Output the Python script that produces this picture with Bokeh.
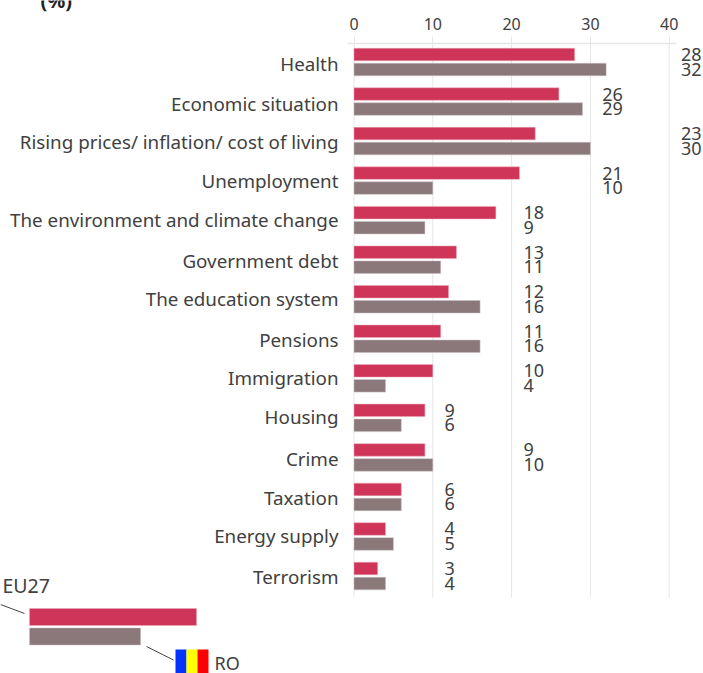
from bokeh.plotting import figure
from bokeh.models import Range1d, LinearAxis, FixedTicker
from bokeh.core.properties import value
from bokeh.embed import file_html
from bokeh.resources import INLINE

categories = ["Health", "Economic situation", "Rising prices/ inflation/ cost of living",
              "Unemployment", "The environment and climate change", "Government debt",
              "The education system", "Pensions", "Immigration", "Housing", "Crime",
              "Taxation", "Energy supply", "Terrorism"]
eu27 = [28, 26, 23, 21, 18, 13, 12, 11, 10, 9, 9, 6, 4, 3]
ro = [32, 29, 30, 10, 9, 11, 16, 16, 4, 6, 10, 6, 5, 4]
ticks = [0, 10, 20, 30, 40]
legend_eu27 = 21.2
legend_ro = 14.1

W, H = 703, 673
X0, KX = 353.5, 7.88
Y0, KY = 61.5, 39.54
RED, GREY, INK, RULE = "#cf3559", "#8a787b", "#404040", "#e6e6e6"
FONT_NAME = "Noto Sans"
FONT = value(FONT_NAME)


def dx(px):
    return (px - X0) / KX


def dy(py):
    return (py - Y0) / KY


p = figure(width=W, height=H, output_backend="svg", toolbar_location=None,
           x_range=Range1d(dx(0), dx(W)), y_range=Range1d(dy(H), dy(0)),
           min_border=0, min_border_left=0, min_border_right=0, min_border_top=0, min_border_bottom=0,
           outline_line_color=None, x_axis_location=None, y_axis_location=None)
p.grid.visible = False
p.background_fill_color = None
p.border_fill_color = None

# rules
p.segment(x0=ticks, x1=ticks, y0=[dy(43)] * 5, y1=[dy(597)] * 5, line_color=RULE, line_width=1, level="underlay")
p.segment(x0=[dx(347)], x1=[dx(676)], y0=[dy(43)], y1=[dy(43)], line_color=RULE, line_width=1.5, level="underlay")

axis = LinearAxis(ticker=FixedTicker(ticks=ticks), fixed_location=dy(43))
axis.axis_line_color = None
axis.major_tick_line_color = RULE
axis.major_tick_out = 7
axis.major_tick_in = 0
axis.minor_tick_line_color = None
axis.major_label_standoff = 7
axis.major_label_text_font = FONT_NAME
axis.major_label_text_font_size = "16px"
axis.major_label_text_color = INK
p.add_layout(axis, "above")

rows = list(range(len(categories)))
off = 7.5 / KY
bar_h = 12.5 / KY
p.hbar(y=[r - off for r in rows], left=0, right=eu27, height=bar_h, fill_color=RED, line_color="#e8a9b8", line_width=0.5)
p.hbar(y=[r + off for r in rows], left=0, right=ro, height=bar_h, fill_color=GREY, line_color="#c9c0c2", line_width=0.5)

nudge = [0, 1, -1, -1, -2, 0, -2, 0, -2, -2, 0, 0, -2, -1]
p.text(x=[dx(338)] * len(rows), y=[r + (1.5 + n) / KY for r, n in zip(rows, nudge)], text=categories, text_font=FONT,
       text_font_size="18.8px", text_color=INK, text_align="right", text_baseline="middle")

label_x = [(max(a, b) // 10 + 1) * 10 + 1.5 for a, b in zip(eu27, ro)]
p.text(x=label_x, y=[r - off for r in rows], text=[str(v) for v in eu27], text_font=FONT,
       text_font_size="18px", text_color=INK, text_align="left", text_baseline="middle")
p.text(x=label_x, y=[r + off - 0.5 / KY for r in rows], text=[str(v) for v in ro], text_font=FONT,
       text_font_size="18px", text_color=INK, text_align="left", text_baseline="middle")

# legend
lx = dx(29)
p.hbar(y=[dy(616.5)], left=lx, right=lx + legend_eu27, height=17 / KY, fill_color=RED, line_color="#e8a9b8", line_width=0.5)
p.hbar(y=[dy(636)], left=lx, right=lx + legend_ro, height=17 / KY, fill_color=GREY, line_color="#c9c0c2", line_width=0.5)
p.segment(x0=[dx(0), dx(146)], x1=[dx(24), dx(173)], y0=[dy(604), dy(646)], y1=[dy(613), dy(659.5)],
          line_color="#444444", line_width=1)
for i, c in enumerate(["#0033ff", "#ffff00", "#ff0000"]):
    p.hbar(y=[dy(661)], left=dx(175 + 11 * i), right=dx(186 + 11 * i), height=24 / KY, fill_color=c, line_color=None)
p.text(x=[dx(2)], y=[dy(585)], text=["EU27"], text_font=FONT, text_font_size="19.5px", text_color=INK, text_baseline="middle")
p.text(x=[dx(214)], y=[dy(662)], text=["RO"], text_font=FONT, text_font_size="18px", text_color=INK, text_baseline="middle")
p.text(x=[dx(40)], y=[dy(0)], text=["(%)"], text_font=FONT, text_font_size="20px", text_font_style="bold",
       text_color="#222222", text_baseline="middle")

open("out.html", "w").write(file_html(p, INLINE))
